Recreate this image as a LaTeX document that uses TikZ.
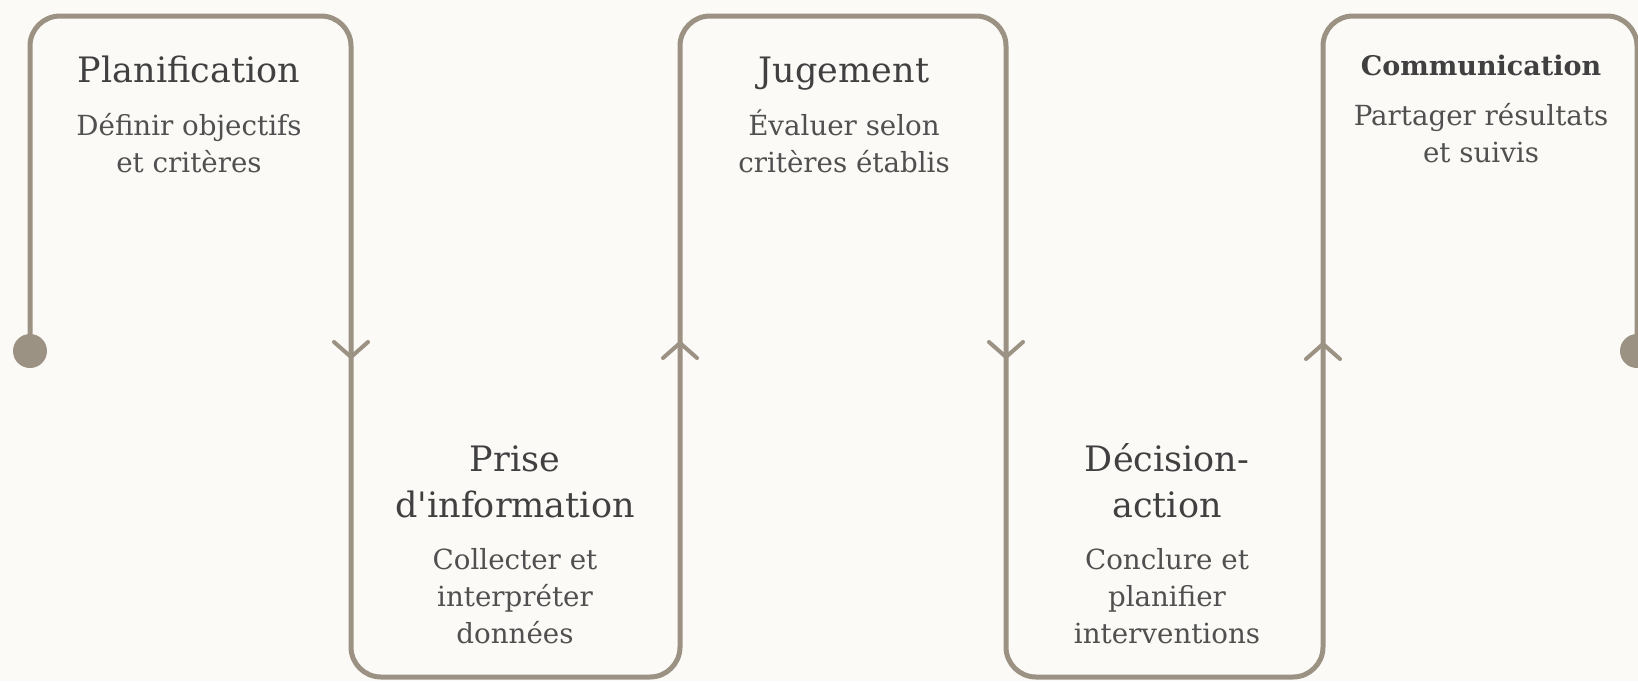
\documentclass[tikz,border=0pt]{standalone}
\usepackage{fontspec}
\setmainfont{DejaVu Serif}
\definecolor{bg}{RGB}{251,250,247}
\definecolor{ln}{RGB}{156,146,131}
\definecolor{ttlc}{RGB}{64,64,64}
\definecolor{subc}{RGB}{80,80,80}
\begin{document}
\begin{tikzpicture}[x=1pt,y=-1pt,
  flow/.style={draw=ln,line width=5pt,rounded corners=30pt,line cap=round},
  chev/.style={draw=ln,line width=4pt,line cap=round,line join=round},
  dotc/.style={fill=ln},
  ttl/.style={text=ttlc,font=\fontsize{35}{46}\selectfont,align=center,inner sep=0pt,anchor=base},
  sub/.style={text=subc,font=\fontsize{27.7}{37}\selectfont,align=center,inner sep=0pt,anchor=base}]
\fill[bg] (0,0) rectangle (1638,681);
\useasboundingbox (0,0) rectangle (1638,681);
% path corners
\coordinate (p0) at (30,351);
\coordinate (p1) at (30,16);
\coordinate (p2) at (351,16);
\coordinate (p3) at (351,677);
\coordinate (p4) at (680,677);
\coordinate (p5) at (680,16);
\coordinate (p6) at (1006,16);
\coordinate (p7) at (1006,677);
\coordinate (p8) at (1323,677);
\coordinate (p9) at (1323,16);
\coordinate (p10) at (1637,16);
\coordinate (p11) at (1637,351);
\draw[flow] (p0) -- (p1) -- (p2) -- (p3) -- (p4) -- (p5) -- (p6) -- (p7) -- (p8) -- (p9) -- (p10) -- (p11);
\fill[dotc] (p0) circle (17);
\fill[dotc] (p11) circle (17);
% chevrons
\coordinate (m1) at (351,357);
\coordinate (m2) at (680,343);
\coordinate (m3) at (1006,357);
\coordinate (m4) at (1323,344);
\draw[chev] ([shift={(-17,-15)}]m1) -- (m1) -- ([shift={(17,-15)}]m1);
\draw[chev] ([shift={(-17,15)}]m2) -- (m2) -- ([shift={(17,15)}]m2);
\draw[chev] ([shift={(-17,-15)}]m3) -- (m3) -- ([shift={(17,-15)}]m3);
\draw[chev] ([shift={(-17,15)}]m4) -- (m4) -- ([shift={(17,15)}]m4);
% texts (anchor base = baseline of last line)
\node[ttl] (t1) at (189,82) {Planification};
\node[sub] (s1) at (189,172) {Définir objectifs\\et critères};
\node[ttl] (t2) at (515,517) {Prise\\d\textquotesingle information};
\node[sub] (s2) at (515,643) {Collecter et\\interpréter\\données};
\node[ttl] (t3) at (844,82) {Jugement};
\node[sub] (s3) at (844,172) {Évaluer selon\\critères établis};
\node[ttl] (t4) at (1167,517) {Décision-\\action};
\node[sub] (s4) at (1167,643) {Conclure et\\planifier\\interventions};
\node[ttl,font=\bfseries\fontsize{27}{34}\selectfont] (t5) at (1481,75) {Communication};
\node[sub] (s5) at (1481,162) {Partager résultats\\et suivis};
\end{tikzpicture}
\end{document}
